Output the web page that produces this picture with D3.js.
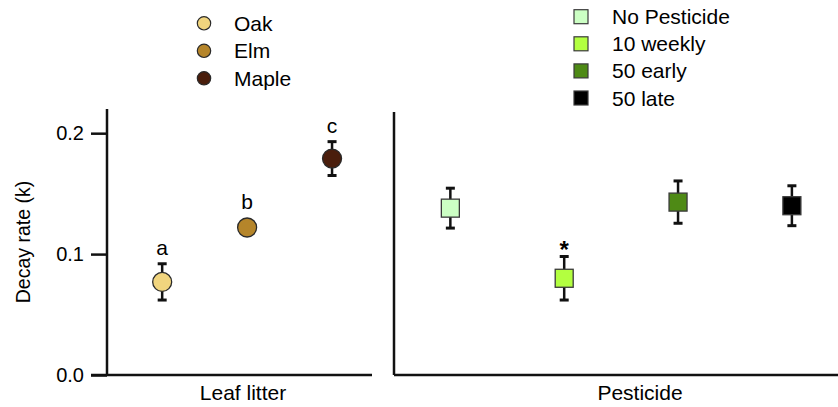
<!DOCTYPE html>
<html>
<head>
<meta charset="utf-8">
<script src="https://cdn.jsdelivr.net/npm/d3@7"></script>
<style>
  html, body { margin: 0; padding: 0; background: #fff; }
  svg { display: block; font-family: "Liberation Sans", Arial, sans-serif; }
</style>
</head>
<body>
<svg id="chart" width="838" height="407"></svg>
<script>
// Leaf litter panel
const litterTypes = ["Oak", "Elm", "Maple"];
const litterMean = [0.077, 0.122, 0.179];
const litterErr = [0.015, 0.003, 0.014];
const litterLetters = ["a", "b", "c"];
const litterColors = ["#f1d57e", "#b5852a", "#4a1e0c"];

// Pesticide panel
const pestTypes = ["No Pesticide", "10 weekly", "50 early", "50 late"];
const pestMean = [0.138, 0.080, 0.143, 0.140];
const pestErr = [0.0165, 0.0180, 0.0175, 0.0165];
const pestMarks = ["", "*", "", ""];
const pestColors = ["#ccffc4", "#b3ff40", "#4e8a15", "#000000"];

const yTicks = [0.0, 0.1, 0.2];
const yTitle = "Decay rate (k)";
const xTitles = ["Leaf litter", "Pesticide"];

const svg = d3.select("#chart");
const y = d3.scaleLinear().domain([0, 0.22]).range([375, 109]);

const xL = d3.scalePoint().domain(litterTypes).range([107, 372]).padding(0.56).align(0.58);
const xR = d3.scalePoint().domain(pestTypes).range([394, 838]).padding(0.45).align(0.55);

// y axis
const yAxis = svg.append("g").attr("transform", "translate(107,0)")
  .call(d3.axisLeft(y).tickValues(yTicks).tickFormat(d3.format(".1f"))
    .tickSize(16).tickSizeOuter(0).tickPadding(7));
yAxis.select(".domain").remove();
yAxis.selectAll(".tick line").attr("stroke", "#111").attr("stroke-width", 2.5);
yAxis.selectAll(".tick text").attr("font-size", 20).attr("fill", "#000")
  .attr("font-family", "Liberation Sans, Arial, sans-serif");

const axisStyle = s => s.attr("stroke", "#111").attr("stroke-width", 2.5).attr("fill", "none");

// panel frames
svg.append("line").attr("x1", 107).attr("x2", 107).attr("y1", y(0.22)).attr("y2", y(0)).call(axisStyle);
svg.append("line").attr("x1", 91).attr("x2", 372).attr("y1", y(0)).attr("y2", y(0)).call(axisStyle);
svg.append("line").attr("x1", 394).attr("x2", 394).attr("y1", y(0.2175)).attr("y2", y(0)).call(axisStyle);
svg.append("line").attr("x1", 394).attr("x2", 838).attr("y1", y(0)).attr("y2", y(0)).call(axisStyle);

// titles
svg.append("text").attr("transform", `translate(30,${y(0.11)}) rotate(-90)`)
  .attr("text-anchor", "middle").attr("font-size", 19.5).attr("fill", "#000").text(yTitle);
svg.append("text").attr("x", 243).attr("y", 400).attr("text-anchor", "middle")
  .attr("font-size", 21).attr("fill", "#000").text(xTitles[0]);
svg.append("text").attr("x", 640).attr("y", 400).attr("text-anchor", "middle")
  .attr("font-size", 21).attr("fill", "#000").text(xTitles[1]);

function errorBars(g, cats, means, errs, x) {
  const d = cats.map((c, i) => ({c, m: means[i], e: errs[i]}));
  const eg = g.append("g").attr("stroke", "#111").attr("stroke-width", 2.5);
  eg.selectAll("line.v").data(d).join("line").attr("class", "v")
    .attr("x1", v => x(v.c)).attr("x2", v => x(v.c))
    .attr("y1", v => y(v.m - v.e)).attr("y2", v => y(v.m + v.e));
  eg.selectAll("line.t").data(d).join("line").attr("class", "t")
    .attr("x1", v => x(v.c) - 4.5).attr("x2", v => x(v.c) + 4.5)
    .attr("y1", v => y(v.m + v.e)).attr("y2", v => y(v.m + v.e)).attr("stroke-width", 3);
  eg.selectAll("line.b").data(d).join("line").attr("class", "b")
    .attr("x1", v => x(v.c) - 4.5).attr("x2", v => x(v.c) + 4.5)
    .attr("y1", v => y(v.m - v.e)).attr("y2", v => y(v.m - v.e)).attr("stroke-width", 3);
}

// leaf litter points
const gL = svg.append("g");
errorBars(gL, litterTypes, litterMean, litterErr, xL);
gL.selectAll("circle").data(litterTypes).join("circle")
  .attr("cx", d => xL(d)).attr("cy", (d, i) => y(litterMean[i])).attr("r", 9.5)
  .attr("fill", (d, i) => litterColors[i]).attr("stroke", "#2a2a2a").attr("stroke-width", 1.3);
gL.selectAll("text").data(litterTypes).join("text")
  .attr("x", d => xL(d))
  .attr("y", (d, i) => Math.min(y(litterMean[i] + litterErr[i]), y(litterMean[i]) - 9.5) - 9)
  .attr("text-anchor", "middle").attr("font-size", 21).attr("fill", "#000")
  .text((d, i) => litterLetters[i]);

// pesticide points
const gR = svg.append("g");
errorBars(gR, pestTypes, pestMean, pestErr, xR);
const sq = 18;
gR.selectAll("rect").data(pestTypes).join("rect")
  .attr("x", d => xR(d) - sq / 2).attr("y", (d, i) => y(pestMean[i]) - sq / 2)
  .attr("width", sq).attr("height", sq)
  .attr("fill", (d, i) => pestColors[i]).attr("stroke", "#3a3a3a").attr("stroke-width", 1.3);
gR.selectAll("text").data(pestTypes).join("text")
  .attr("x", d => xR(d))
  .attr("y", (d, i) => y(pestMean[i] + pestErr[i]) + 1)
  .attr("text-anchor", "middle").attr("font-size", 24).attr("font-weight", "bold").attr("fill", "#000")
  .text((d, i) => pestMarks[i]);

// legends
const legL = svg.append("g");
litterTypes.forEach((t, i) => {
  const cy = 23.3 + i * 27.5;
  legL.append("circle").attr("cx", 204).attr("cy", cy).attr("r", 6.7)
    .attr("fill", litterColors[i]).attr("stroke", "#2a2a2a").attr("stroke-width", 1.2);
  legL.append("text").attr("x", 234).attr("y", cy).attr("dy", "0.36em")
    .attr("font-size", 21).attr("fill", "#000").text(t);
});
const legR = svg.append("g");
pestTypes.forEach((t, i) => {
  const cy = 16.7 + i * 27.1;
  legR.append("rect").attr("x", 581 - 7).attr("y", cy - 7).attr("width", 14).attr("height", 14)
    .attr("fill", pestColors[i]).attr("stroke", "#3a3a3a").attr("stroke-width", 1.2);
  legR.append("text").attr("x", 612).attr("y", cy).attr("dy", "0.36em")
    .attr("font-size", 21).attr("fill", "#000").text(t);
});
</script>
</body>
</html>
